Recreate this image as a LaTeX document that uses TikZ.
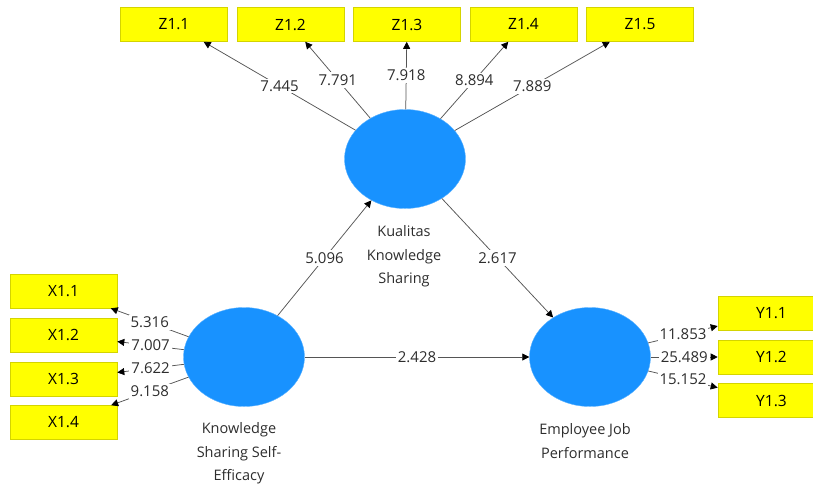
\documentclass[tikz,border=0pt]{standalone}
\usepackage{fontspec}
\setmainfont{Open Sans}
\usetikzlibrary{shapes.geometric,arrows.meta}
\definecolor{lv}{RGB}{24,146,255}
\definecolor{ind}{RGB}{255,255,0}
\definecolor{indb}{RGB}{212,212,0}
\definecolor{ln}{RGB}{85,85,85}
\definecolor{tx}{RGB}{45,45,45}
\tikzset{
  indbox/.style={rectangle,fill=ind,draw=indb,line width=0.6pt,minimum width=107pt,minimum height=34pt,inner sep=0pt,font=\fontsize{15.5}{17}\selectfont,text=black},
  latent/.style={ellipse,fill=lv,draw=lv!70!white,line width=0.4pt,minimum width=121pt,minimum height=99pt,inner sep=0pt},
  lvname/.style={align=center,font=\fontsize{14.5}{23.5}\selectfont,text=tx},
  pth/.style={draw=ln,line width=0.75pt,-{Triangle[length=7pt,width=7pt,black]}},
  lab/.style={fill=white,inner sep=2pt,font=\fontsize{15}{17}\selectfont,text=tx}
}
\begin{document}
\begin{tikzpicture}[x=1pt,y=-1pt]
\useasboundingbox (0,0) rectangle (813,485);
% latent variables
\node[latent] (K) at (405,159) {};
\node[latent] (S) at (244,357) {};
\node[latent] (E) at (590,357) {};
\node[lvname] (Kn) at (404,256.5) {Kualitas\\Knowledge\\Sharing};
\node[lvname] (Sn) at (239,453.5) {Knowledge\\Sharing Self-\\Efficacy};
\node[lvname] (En) at (585,441) {Employee Job\\Performance};
% indicators
\node[indbox] (Z1) at (174,24.5) {Z1.1};
\node[indbox] (Z2) at (290.5,24.5) {Z1.2};
\node[indbox] (Z3) at (407,24.5) {Z1.3};
\node[indbox] (Z4) at (523.5,24.5) {Z1.4};
\node[indbox] (Z5) at (640,24.5) {Z1.5};
\node[indbox] (X1) at (63.5,291) {X1.1};
\node[indbox] (X2) at (63.5,335) {X1.2};
\node[indbox] (X3) at (63.5,379) {X1.3};
\node[indbox] (X4) at (63.5,422.5) {X1.4};
\node[indbox] (Y1) at (771.5,313) {Y1.1};
\node[indbox] (Y2) at (771.5,357) {Y1.2};
\node[indbox] (Y3) at (771.5,400.5) {Y1.3};
% outer loadings
\draw[pth] (K) -- node[lab] {7.445} (Z1);
\draw[pth] (K) -- node[lab] {7.791} (Z2);
\draw[pth] (K) -- node[lab] {7.918} (Z3);
\draw[pth] (K) -- node[lab] {8.894} (Z4);
\draw[pth] (K) -- node[lab] {7.889} (Z5);
\draw[pth] (S) -- node[lab] {5.316} (X1);
\draw[pth] (S) -- node[lab] {7.007} (X2);
\draw[pth] (S) -- node[lab] {7.622} (X3);
\draw[pth] (S) -- node[lab] {9.158} (X4);
\draw[pth] (E) -- node[lab] {11.853} (Y1);
\draw[pth] (E) -- node[lab] {25.489} (Y2);
\draw[pth] (E) -- node[lab] {15.152} (Y3);
% structural paths
\draw[pth] (S) -- node[lab] {5.096} (K);
\draw[pth] (K) -- node[lab] {2.617} (E);
\draw[pth] (S) -- node[lab] {2.428} (E);
\end{tikzpicture}
\end{document}
